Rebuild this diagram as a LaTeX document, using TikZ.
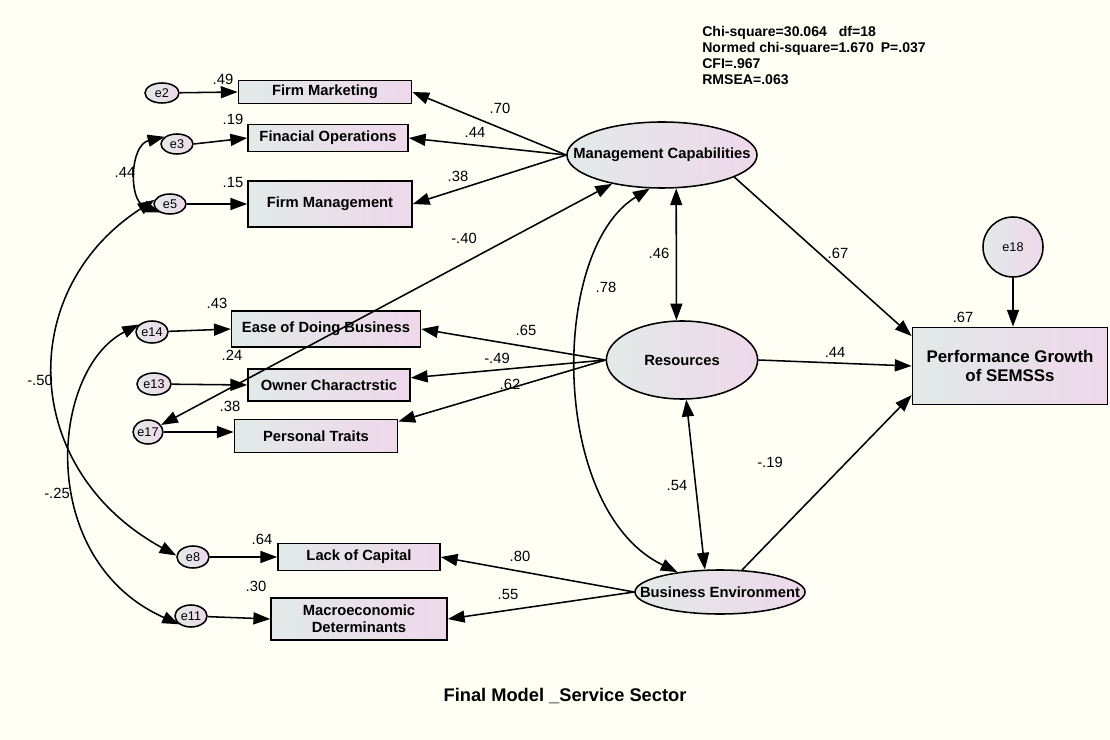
\documentclass[tikz,border=0pt]{standalone}
\usepackage{fontspec}
\setmainfont{Liberation Sans}
\usetikzlibrary{arrows.meta,shapes.geometric,calc}
\definecolor{bgcream}{RGB}{255,255,245}
\definecolor{fillleft}{RGB}{226,234,232}
\definecolor{fillright}{RGB}{238,216,234}

\tikzset{
  obsbox/.style={draw, line width=1.1pt, rectangle, left color=fillleft, right color=fillright,
    inner sep=0pt, align=center, font=\fontsize{10.5}{12}\selectfont\bfseries},
  latent/.style={draw, line width=1.1pt, ellipse, left color=fillleft, right color=fillright,
    inner sep=0pt, font=\fontsize{10.5}{12}\selectfont\bfseries},
  errvar/.style={draw, line width=1.1pt, ellipse, left color=fillleft, right color=fillright,
    inner sep=0pt, font=\fontsize{9}{10}\selectfont},
  onehead/.style={line width=1.1pt, -{Triangle[length=4.2mm,width=3mm]}},
  twohead/.style={line width=1.1pt, {Triangle[length=4.2mm,width=3mm]}-{Triangle[length=4.2mm,width=3mm]}},
  coef/.style={inner sep=0pt, font=\fontsize{10.5}{12}\selectfont},
}

\begin{document}
\begin{tikzpicture}[x=0.025cm, y=-0.025cm]
        % Background and page size
        \fill[bgcream] (0,0) rectangle (1110,740);
        \useasboundingbox (0,0) rectangle (1110,740);

        % Observed indicators
        \node[obsbox, minimum width=4.33cm, minimum height=0.58cm] (FMkt) at (325,92) {Firm Marketing};
        \node[obsbox, minimum width=4.0cm, minimum height=0.68cm] (FOps) at (328,138) {Finacial Operations};
        \node[obsbox, minimum width=4.1cm, minimum height=1.15cm] (FMgt) at (330,204) {Firm Management};
        \node[obsbox, minimum width=4.72cm, minimum height=0.9cm] (EDB) at (326,329) {Ease of Doing Business};
        \node[obsbox, minimum width=4.05cm, minimum height=0.8cm] (OwnC) at (329,385) {Owner Charactrstic};
        \node[obsbox, minimum width=4.08cm, minimum height=0.83cm] (PTr) at (316,436) {Personal Traits};
        \node[obsbox, minimum width=4.05cm, minimum height=0.68cm] (LoC) at (359,557) {Lack of Capital};
        \node[obsbox, minimum width=4.4cm, minimum height=1.05cm] (MacD) at (359,619) {Macroeconomic\\Determinants};
        \node[obsbox, minimum width=4.88cm, minimum height=1.93cm, font=\fontsize{12}{14}\selectfont\bfseries] (Perf) at (1010,366) {Performance Growth\\of SEMSSs};

        % Latent factors
        \node[latent, minimum width=4.75cm, minimum height=1.65cm] (MC) at (662,155) {\makebox[0pt]{Management Capabilities}};
        \node[latent, minimum width=3.78cm, minimum height=1.95cm] (Res) at (682,360) {\makebox[0pt]{Resources}};
        \node[latent, minimum width=4.25cm, minimum height=1.1cm] (BE) at (720,592) {\makebox[0pt]{Business Environment}};

        % Error terms
        \node[errvar, minimum width=0.85cm, minimum height=0.5cm] (E2) at (162,93) {e2};
        \node[errvar, minimum width=0.8cm, minimum height=0.5cm] (E3) at (177,144) {e3};
        \node[errvar, minimum width=0.8cm, minimum height=0.5cm] (E5) at (170,204) {e5};
        \node[errvar, minimum width=0.8cm, minimum height=0.55cm] (E14) at (152,332) {e14};
        \node[errvar, minimum width=0.85cm, minimum height=0.55cm] (E13) at (154,384) {e13};
        \node[errvar, minimum width=0.65cm, minimum height=0.6cm] (E17) at (148,432) {e17};
        \node[errvar, minimum width=0.8cm, minimum height=0.55cm] (E8) at (193,557) {e8};
        \node[errvar, minimum width=0.8cm, minimum height=0.55cm] (E11) at (191,616) {e11};
        \node[errvar, circle, minimum size=1.5cm] (E18) at (1013,247) {e18};

        % Errors to indicators
        \draw[onehead] (E2) -- (FMkt.west);
        \draw[onehead] (E3.east) -- (FOps.west);
        \draw[onehead] (E5) -- (FMgt.west);
        \draw[onehead] (E14) -- (EDB.west);
        \draw[onehead] (E13) -- (OwnC.west);
        \draw[onehead] (E17) -- (E17 -| PTr.west);
        \draw[onehead] (E8) -- (LoC.west);
        \draw[onehead] (E11) -- (MacD.west);
        \draw[onehead] (E18) -- (E18 |- Perf.north);

        % Factor loadings
        \draw[onehead] (MC.west) -- (FMkt.east);
        \draw[onehead] (MC.west) -- (FOps.east);
        \draw[onehead] (MC.west) -- (FMgt.east);
        \draw[onehead] (Res.west) -- (EDB.east);
        \draw[onehead] (Res.west) -- (OwnC.5);
        \draw[onehead] (Res.west) -- (PTr.10);
        \draw[onehead] (BE.west) -- (LoC.east);
        \draw[onehead] (BE.west) -- (MacD.east);

        % Paths to performance
        \draw[onehead] (MC.-17) -- ($(Perf.north west)!0.12!(Perf.south west)$);
        \draw[onehead] (Res.east) -- (Perf.west);
        \draw[onehead] (BE.45) -- ($(Perf.north west)!0.87!(Perf.south west)$);

        % Covariances
        \draw[twohead] (MC.-67) -- (Res.98);
        \draw[twohead] (Res.-84) -- (BE.124);
        \draw[twohead] (MC.-110) .. controls (549,250) and (549,510) .. (BE.155);
        \draw[twohead] (MC.210) -- (E17);
        \draw[twohead] (E3.150) .. controls (130,145) and (128,200) .. (E5.220);
        \draw[twohead] (E5.165) .. controls (15,290) and (20,470) .. (E8.175);
        \draw[twohead] (E14.150) .. controls (50,370) and (35,560) .. (E11.215);

        % Squared multiple correlations
        \node[coef] at (223,79) {.49};
        \node[coef] at (233,119) {.19};
        \node[coef] at (233,182) {.15};
        \node[coef] at (217,303) {.43};
        \node[coef] at (232,355) {.24};
        \node[coef] at (230,406) {.38};
        \node[coef] at (262,539) {.64};
        \node[coef] at (256,586) {.30};
        \node[coef] at (963,317) {.67};

        % Loading and path estimates
        \node[coef] at (500,108) {.70};
        \node[coef] at (475,132) {.44};
        \node[coef] at (458,176) {.38};
        \node[coef] at (526,330) {.65};
        \node[coef] at (497,358) {-.49};
        \node[coef] at (510,384) {.62};
        \node[coef] at (520,556) {.80};
        \node[coef] at (508,594) {.55};
        \node[coef] at (838,253) {.67};
        \node[coef] at (835,352) {.44};
        \node[coef] at (770,462) {-.19};

        % Covariance estimates
        \node[coef] at (125,172) {.44};
        \node[coef] at (40,380) {-.50};
        \node[coef] at (57,493) {-.25};
        \node[coef] at (464,238) {-.40};
        \node[coef] at (659,253) {.46};
        \node[coef] at (606,287) {.78};
        \node[coef] at (677,485) {.54};

        % Fit statistics and caption
        \node[anchor=north west, align=left, inner sep=0pt, font=\fontsize{10}{11.3}\selectfont\bfseries] (fitstats) at (702,26)
            {Chi-square=30.064\hspace{8.5pt}df=18\\Normed chi-square=1.670\hspace{5pt}P=.037\\CFI=.967\\RMSEA=.063};
        \node[font=\fontsize{13}{15}\selectfont\bfseries] (title) at (565,696) {Final Model \_Service Sector};
\end{tikzpicture}
\end{document}
